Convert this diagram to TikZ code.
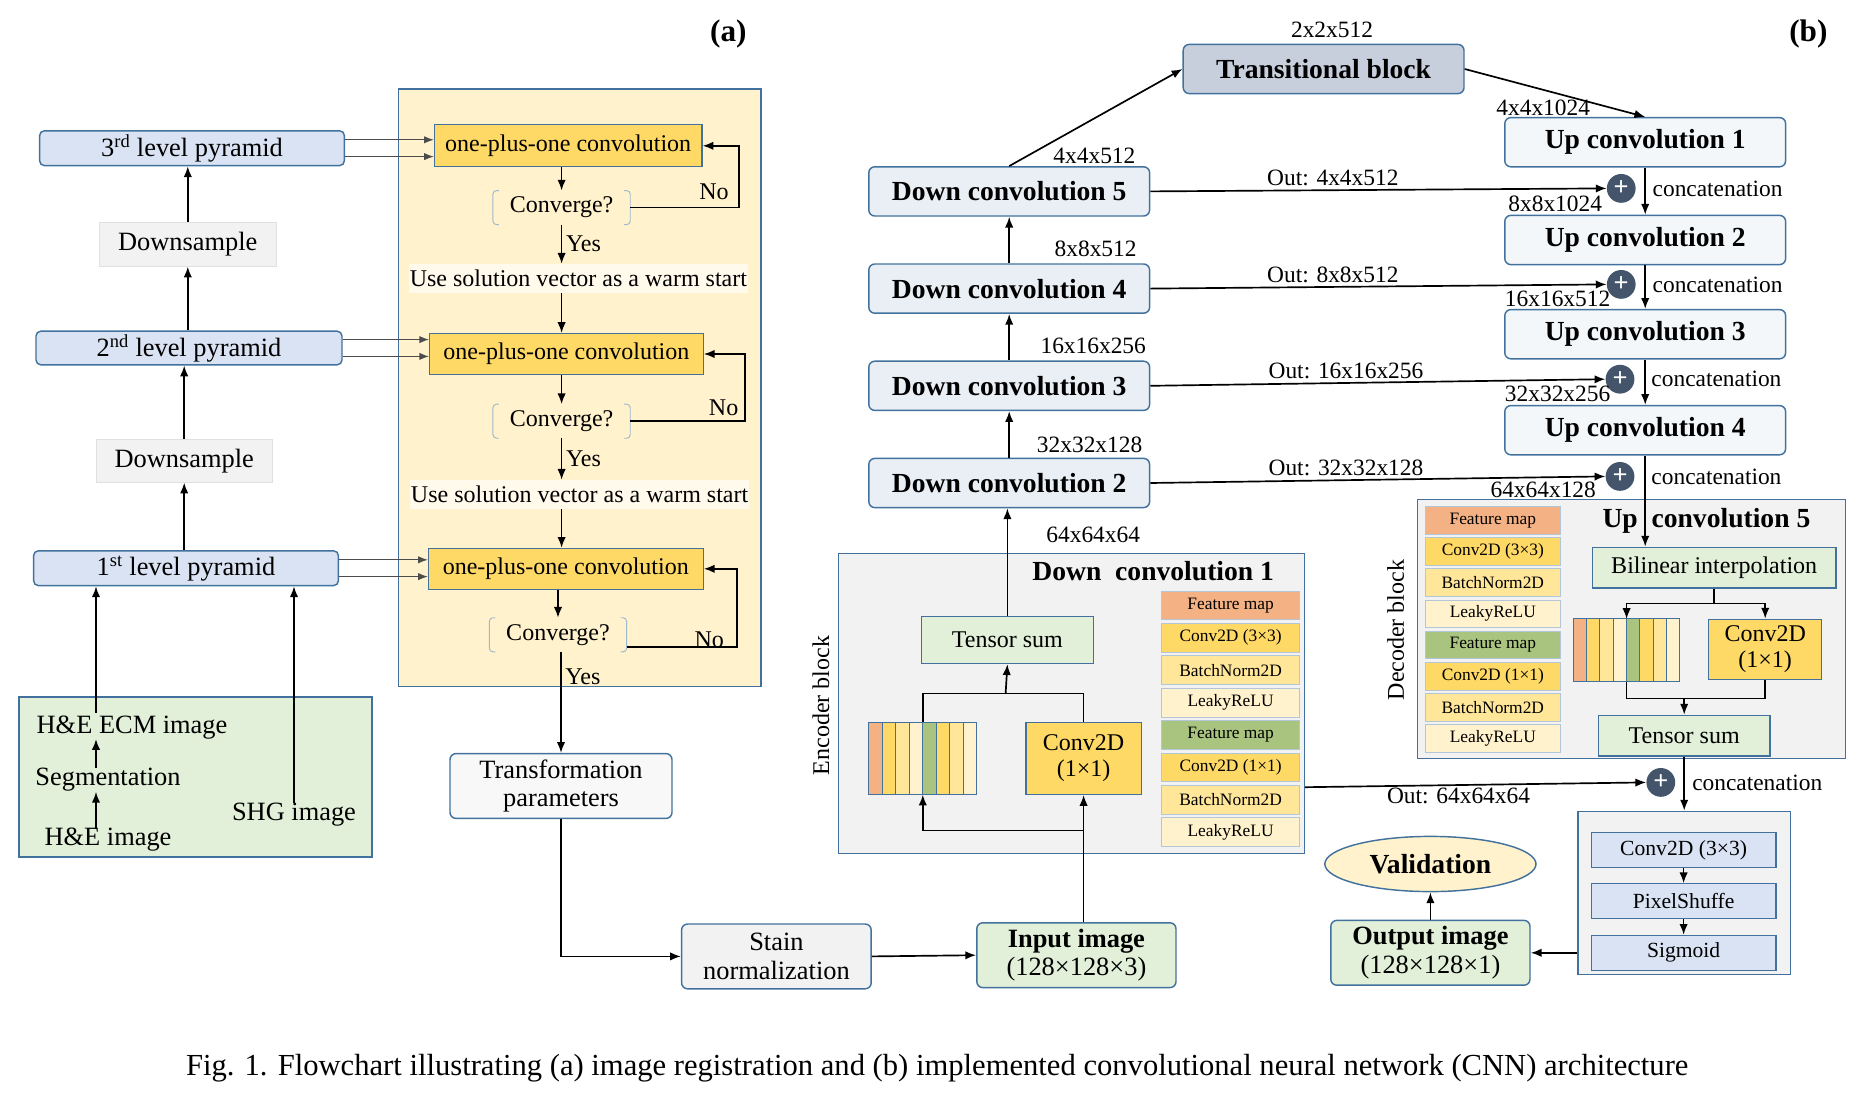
\documentclass[tikz,border=0pt]{standalone}
\usepackage{fontspec}
\setmainfont{Liberation Serif}
\usetikzlibrary{arrows.meta,shapes.geometric}
\definecolor{bD}{HTML}{41719C}
\definecolor{bF}{HTML}{DAE3F3}
\definecolor{gF}{HTML}{E2F0D9}
\definecolor{yP}{HTML}{FFF2CC}
\definecolor{yB}{HTML}{FFD966}
\definecolor{yM}{HTML}{FFE699}
\definecolor{oF}{HTML}{F4B183}
\definecolor{olF}{HTML}{A9C47F}
\definecolor{grF}{HTML}{F2F2F2}
\definecolor{dcF}{HTML}{EAEFF5}
\definecolor{pl}{HTML}{44546A}
\begin{document}
\begin{tikzpicture}[x=1pt,y=-1pt,
 every node/.style={font=\fontsize{22}{24}\selectfont, inner sep=0pt, align=center},
 sm/.style={font=\fontsize{20}{22}\selectfont},
 bx/.style 2 args={minimum width=#1pt, minimum height=#2pt},
 pyr/.style={draw=bD, fill=bF, line width=1.2pt, rounded corners=4pt},
 rbox/.style={draw=bD, line width=1.2pt, rounded corners=5pt},
 sq/.style={draw=bD, line width=1pt},
 bold/.style={font=\fontsize{23}{25}\selectfont\bfseries},
 leg/.style={draw=bD!40, line width=0.8pt, minimum width=#1pt, font=\fontsize{14.5}{15}\selectfont},
 lbl/.style={font=\fontsize{19.5}{21}\selectfont},
 arr/.style={-{Latex[length=9pt,width=7pt]}, line width=1.4pt},
 ln/.style={line width=1.4pt},
 plus/.style={circle, fill=pl, minimum size=24pt, text=white, font=\fontsize{22}{22}\selectfont\bfseries}
]
\useasboundingbox (0,0) rectangle (1560,923);

% ---------- (a) ----------
\node[font=\fontsize{26}{28}\selectfont\bfseries] (ta) at (607,28) {(a)};
\node[font=\fontsize{26}{28}\selectfont\bfseries] (tb) at (1507,28) {(b)};

\node[draw=bD, fill=yP, line width=1.2pt, bx={302}{498}] (yel) at (483,323) {};

\node[pyr, bx={254}{29}] (p3) at (160,123.5) {3\textsuperscript{rd} level pyramid};
\node[fill=grF, draw=black!12, bx={147}{37}] (ds1) at (156.5,203.5) {Downsample};
\node[pyr, bx={255}{28}] (p2) at (157.5,290) {2\textsuperscript{nd} level pyramid};
\node[fill=grF, draw=black!12, bx={147}{36}] (ds2) at (153.5,384) {Downsample};
\node[pyr, bx={254}{29}] (p1) at (155,473.5) {1\textsuperscript{st} level pyramid};

\node[draw=bD, fill=gF, line width=1.2pt, bx={294}{133}] (grn) at (163,647.5) {};
\node (ecm) at (110,606) {H\&E ECM image};
\node (seg) at (90,650) {Segmentation};
\node (he) at (90,700) {H\&E image};
\node (shg) at (245,679) {SHG image};
\draw[arr] (he.north -| 80,0) -- (seg.south -| 80,0);
\draw[arr] (seg.north -| 80,0) -- (ecm.south -| 80,0);
\draw[arr] (80,594) -- (p1.south -| 80,0);
\draw[arr] (shg.north -| 245,0) -- (p1.south -| 245,0);

\draw[arr] (p2.north -| ds1.south) -- (ds1.south);
\draw[arr] (ds1.north) -- (ds1.north |- p3.south);
\draw[arr] (p1.north -| ds2.south) -- (ds2.south);
\draw[arr] (ds2.north) -- (ds2.north |- p2.south);

\node[sq, fill=yB, bx={223}{35}, sm] (op1) at (473.5,121.5) {one-plus-one convolution};
\node[sq, fill=yB, bx={228}{34}, sm] (op2) at (472,295) {one-plus-one convolution};
\node[sq, fill=yB, bx={229}{34}, sm] (op3) at (471.5,474) {one-plus-one convolution};

\foreach \p/\o in {p3/op1,p2/op2,p1/op3}{
  \draw[-{Latex[length=8pt,width=6pt]}, line width=0.8pt, black!70] ([yshift=7pt]\p.east) -- ([yshift=7pt]\p.east -| \o.west);
  \draw[-{Latex[length=8pt,width=6pt]}, line width=0.8pt, black!70] ([yshift=-7pt]\p.east) -- ([yshift=-7pt]\p.east -| \o.west);
}

\node[bx={114}{28}, sm] (cv1) at (468,173) {Converge?};
\node[bx={114}{28}, sm] (cv2) at (468,351) {Converge?};
\node[bx={114}{28}, sm] (cv3) at (465,529) {Converge?};
\foreach \c in {cv1,cv2,cv3}{
  \draw[bD!50, line width=0.8pt, rounded corners=3pt] ([xshift=5pt]\c.north west) -- (\c.north west) -- (\c.south west) -- ([xshift=5pt]\c.south west);
  \draw[bD!50, line width=0.8pt, rounded corners=3pt] ([xshift=-5pt]\c.north east) -- (\c.north east) -- (\c.south east) -- ([xshift=-5pt]\c.south east);
}
\node[fill=white!60!yP, bx={282}{24}, sm] (ws1) at (482,232) {Use solution vector as a warm start};
\node[fill=white!60!yP, bx={282}{24}, sm] (ws2) at (483,412) {Use solution vector as a warm start};

\draw[arr] (op1.south -| cv1.north) -- (cv1.north);
\draw[arr] (cv1.south) -- (ws1.north -| cv1.south) node[midway, right=3pt, sm] {Yes};
\draw[arr] (ws1.south -| cv1.south) -- (op2.north -| cv1.south);
\draw[arr] (op2.south -| cv2.north) -- (cv2.north);
\draw[arr] (cv2.south) -- (ws2.north -| cv2.south) node[midway, right=3pt, sm] {Yes};
\draw[arr] (ws2.south -| cv2.south) -- (op3.north -| cv2.south);
\draw[arr] (op3.south -| cv3.north) -- (cv3.north);

\coordinate (n1) at (616,0);
\coordinate (n2) at (621,0);
\coordinate (n3) at (614,0);
\draw[arr] (cv1.east) -- (cv1.east -| n1) |- (op1.east);
\draw[arr] (cv2.east) -- (cv2.east -| n2) |- (op2.east);
\draw[arr] ([yshift=-10pt]cv3.east) -- ([yshift=-10pt]cv3.east -| n3) |- (op3.east);
\node[sm] (no1) at (595,160) {No};
\node[sm] (no2) at (603,340) {No};
\node[sm] (no3) at (591,533) {No};

\node[rbox, fill=grF!50, bx={185}{54}] (tp) at (467.5,655) {Transformation\\parameters};
\draw[arr] (cv3.south -| tp.north) -- (tp.north) node[pos=0.25, right=3pt, sm] {Yes};
\node[rbox, fill=grF, bx={158}{54}] (sn) at (647,797) {Stain\\normalization};
\draw[arr] (tp.south) |- (sn.west);

% ---------- (b) encoder ----------
\node[rbox, fill=gF, bx={166}{54}] (in) at (897,796) {\textbf{Input image}\\(128×128×3)};
\draw[arr] (sn.east) -- (in.west);

\node[sq, fill=grF, bx={388}{250}] (enc) at (893,586) {};
\node[rotate=90, sm] (encl) at (684,588) {Encoder block};
\node[bold] (dc1) at (961,476) {Down\ \ convolution 1};
\node[sq, fill=gF, bx={143}{39}, sm] (ts1) at (839.5,533.5) {Tensor sum};
\node[sq, fill=yB, bx={96}{60}, sm] (c1) at (903,632) {Conv2D\\(1×1)};
\node[bx={90}{60}] (st1) at (769,632) {};
\foreach \i/\c in {0/oF,1/yB,2/yM,3/yP,4/olF,5/yB,6/yM,7/yP}{
  \fill[\c] ([xshift=\i*11.25pt]st1.north west) rectangle ([xshift=\i*11.25pt+11.25pt]st1.south west);
  \draw[bD, line width=0.8pt] ([xshift=\i*11.25pt]st1.north west) rectangle ([xshift=\i*11.25pt+11.25pt]st1.south west);
}
\foreach \i/\c/\t in {0/oF/Feature map,1/yB/Conv2D (3×3),2/yM/BatchNorm2D,3/yP/LeakyReLU,4/olF/Feature map,5/yB/Conv2D (1×1),6/yM/BatchNorm2D,7/yP/LeakyReLU}{
  \node[leg=115, fill=\c, minimum height=24pt] (la\i) at (1025.5,504.5+27*\i) {\t};
}
\draw[arr] (c1.south |- in.north) -- (c1.south);
\draw[arr] (c1.south |- 0,692) -| (st1.south);
\draw[ln] (st1.north) |- (838,578) -| (c1.north);
\draw[arr] (838,578) -- (ts1.south);

\node[rbox, fill=dcF, bx={234}{41}, bold] (d2) at (841,402.5) {Down convolution 2};
\node[rbox, fill=dcF, bx={234}{41}, bold] (d3) at (841,321.5) {Down convolution 3};
\node[rbox, fill=dcF, bx={234}{41}, bold] (d4) at (841,240.5) {Down convolution 4};
\node[rbox, fill=dcF, bx={234}{41}, bold] (d5) at (841,159.5) {Down convolution 5};
\node[rbox, fill=bF!80!gray, bx={234}{41}, bold] (tb) at (1103,57.5) {Transitional block};
\draw[arr] (ts1.north) -- (ts1.north |- d2.south);
\draw[arr] (d2.north) -- (d3.south);
\draw[arr] (d3.north) -- (d4.south);
\draw[arr] (d4.north) -- (d5.south);
\draw[arr] (d5.north) -- (tb.west);
\node[lbl] at (911,446) {64x64x64};
\node[lbl] at (908,371) {32x32x128};
\node[lbl] at (911,288) {16x16x256};
\node[lbl] at (913,207) {8x8x512};
\node[lbl] at (912,130) {4x4x512};
\node[lbl] at (1110,25) {2x2x512};

% ---------- decoder ----------
\node[rbox, fill=dcF!50!white, bx={234}{41}, bold] (u1) at (1371,118.5) {Up convolution 1};
\node[rbox, fill=dcF!50!white, bx={234}{41}, bold] (u2) at (1371,200) {Up convolution 2};
\node[rbox, fill=dcF!50!white, bx={234}{41}, bold] (u3) at (1371,278.5) {Up convolution 3};
\node[rbox, fill=dcF!50!white, bx={234}{41}, bold] (u4) at (1371,358.5) {Up convolution 4};
\draw[arr] (tb.east) -- (u1.north);
\node[lbl] at (1286,90) {4x4x1024};

\node[plus] (q1) at (1351,157) {+};
\node[plus] (q2) at (1351,237) {+};
\node[plus] (q3) at (1350,316) {+};
\node[plus] (q4) at (1350,397) {+};
\node[plus] (q5) at (1384,652) {+};
\foreach \q in {q1,q2,q3,q4,q5}{\node[lbl, anchor=west] at ([xshift=26pt]\q.center) {concatenation};}

\draw[arr] (d5.east) -- (q1.west) node[pos=0.4, above=3pt, lbl] {Out: 4x4x512};
\draw[arr] (d4.east) -- (q2.west) node[pos=0.4, above=3pt, lbl] {Out: 8x8x512};
\draw[arr] (d3.east) -- (q3.west) node[pos=0.43, above=3pt, lbl] {Out: 16x16x256};
\draw[arr] (d2.east) -- (q4.west) node[pos=0.43, above=3pt, lbl] {Out: 32x32x128};
\draw[arr] (u1.south) -- (u2.north);
\draw[arr] (u2.south) -- (u3.north);
\draw[arr] (u3.south) -- (u4.north);
\node[lbl] at (1296,170) {8x8x1024};
\node[lbl] at (1298,249) {16x16x512};
\node[lbl] at (1298,328) {32x32x256};
\node[lbl] at (1286,408) {64x64x128};

\node[sq, fill=grF, bx={357}{216}] (dec) at (1359.5,524) {};
\node[rotate=90, sm] (decl) at (1163,525) {Decoder block};
\node[bold] (uc5) at (1422,434) {Up\ \ convolution 5};
\foreach \i/\c/\t in {0/oF/Feature map,1/yB/Conv2D (3×3),2/yM/BatchNorm2D,3/yP/LeakyReLU,4/olF/Feature map,5/yB/Conv2D (1×1),6/yM/BatchNorm2D,7/yP/LeakyReLU}{
  \node[leg=112, fill=\c, minimum height=23pt] (lb\i) at (1244,433.5+26*\i) {\t};
}
\node[sq, fill=gF, bx={203}{34}, sm] (bi) at (1428.5,473) {Bilinear interpolation};
\node[bx={89}{52}] (st2) at (1355.5,542) {};
\foreach \i/\c in {0/oF,1/yB,2/yM,3/yP,4/olF,5/yB,6/yM,7/yP}{
  \fill[\c] ([xshift=\i*11.125pt]st2.north west) rectangle ([xshift=\i*11.125pt+11.125pt]st2.south west);
  \draw[bD, line width=0.8pt] ([xshift=\i*11.125pt]st2.north west) rectangle ([xshift=\i*11.125pt+11.125pt]st2.south west);
}
\node[sq, fill=yB, bx={94}{50}, sm] (c2) at (1471,541) {Conv2D\\(1×1)};
\node[sq, fill=gF, bx={143}{34}, sm] (ts2) at (1403.5,613) {Tensor sum};
\draw[arr] (u4.south) -- (u4.south |- bi.north);
\draw[ln] (bi.south) -- (bi.south |- 0,503);
\draw[arr] (bi.south |- 0,503) -| (st2.north);
\draw[arr] (bi.south |- 0,503) -| (c2.north);
\draw[ln] (st2.south) |- (ts2.north |- 0,582) -| (c2.south);
\draw[arr] (ts2.north |- 0,582) -- (ts2.north);

\node[sq, fill=grF, bx={177}{136}] (ob) at (1403.5,744) {};
\node[sq, fill=bF, bx={154}{29}, font=\fontsize{18}{20}\selectfont] (cc) at (1403,708.5) {Conv2D (3×3)};
\node[sq, fill=bF, bx={154}{29}, font=\fontsize{18}{20}\selectfont] (ps) at (1403,751) {PixelShuffe};
\node[sq, fill=bF, bx={154}{29}, font=\fontsize{18}{20}\selectfont] (sg) at (1403,794) {Sigmoid};
\draw[arr] (ts2.south) -- (ts2.south |- ob.north);
\draw[arr] (cc.south) -- (ps.north);
\draw[arr] (ps.south) -- (sg.north);
\draw[arr] (enc.east |- 0,656) -- (q5.west) node[pos=0.45, below=2pt, lbl] {Out: 64x64x64};

\node[rbox, fill=gF, bx={166}{54}] (oi) at (1192,794) {\textbf{Output image}\\(128×128×1)};
\node[ellipse, draw=bD, fill=yP, line width=1.2pt, minimum width=176pt, minimum height=46pt, bold] (val) at (1192,720) {Validation};
\draw[arr] (ob.west |- oi.east) -- (oi.east);
\draw[arr] (oi.north) -- (val.south);

\node[font=\fontsize{25.5}{27}\selectfont] (cap) at (781,890) {Fig. 1. Flowchart illustrating (a) image registration and (b) implemented convolutional neural network (CNN) architecture};
\end{tikzpicture}
\end{document}
